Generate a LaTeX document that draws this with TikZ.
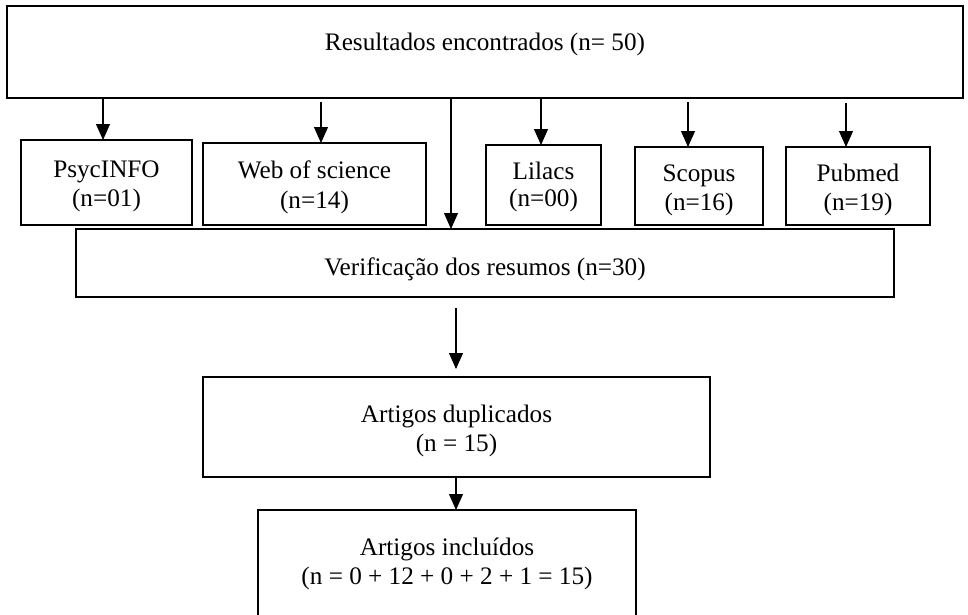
\documentclass[tikz,border=0pt]{standalone}
\usepackage{fontspec}
\setmainfont{Liberation Serif}
\usetikzlibrary{arrows.meta}
\begin{document}
\begin{tikzpicture}[x=1pt,y=-1pt,
  box/.style={draw, line width=1.3pt, inner sep=0pt, outer sep=0pt},
  txt/.style={anchor=base, inner sep=0pt, font=\fontsize{25.2}{30}\selectfont},
  arr/.style={line width=1.1pt, -{Triangle[width=14pt,length=16pt]}}]
\useasboundingbox (0,0) rectangle (968,614);
\clip (0,0) rectangle (968,614);
% boxes
\node[box, minimum width=956pt, minimum height=92pt] (top) at (485,52) {};
\node[box, minimum width=171pt, minimum height=85pt] (psy) at (106.5,182.5) {};
\node[box, minimum width=223pt, minimum height=82pt] (web) at (314.5,184) {};
\node[box, minimum width=115pt, minimum height=80pt] (lil) at (543.5,185) {};
\node[box, minimum width=128pt, minimum height=78pt] (sco) at (699,186) {};
\node[box, minimum width=144pt, minimum height=78pt] (pub) at (858,186) {};
\node[box, minimum width=818pt, minimum height=68pt] (ver) at (485,263) {};
\node[box, minimum width=507pt, minimum height=100pt] (dup) at (456.5,427) {};
\node[box, minimum width=378pt, minimum height=140pt] (inc) at (447,580) {};
% texts
\node[txt] (ttop) at (485,50) {Resultados encontrados (n= 50)};
\node[txt] (tpsy1) at (106.5,177) {PsycINFO};
\node[txt] (tpsy2) at (106.5,206) {(n=01)};
\node[txt] (tweb1) at (314.5,178) {Web of science};
\node[txt] (tweb2) at (314.5,208) {(n=14)};
\node[txt] (tlil1) at (543.5,179) {Lilacs};
\node[txt] (tlil2) at (543.5,206) {(n=00)};
\node[txt] (tsco1) at (699,181) {Scopus};
\node[txt] (tsco2) at (699,210) {(n=16)};
\node[txt] (tpub1) at (858,181) {Pubmed};
\node[txt] (tpub2) at (858,210) {(n=19)};
\node[txt] (tver) at (485,275) {Verificação dos resumos (n=30)};
\node[txt] (tdup1) at (456.5,422) {Artigos duplicados};
\node[txt] (tdup2) at (456.5,451) {(n = 15)};
\node[txt] (tinc1) at (447,555) {Artigos incluídos};
\node[txt] (tinc2) at (447,584) {(n = 0 + 12 + 0 + 2 + 1 = 15)};
% arrow x positions
\coordinate (x1) at (103,0);
\coordinate (x2) at (321,0);
\coordinate (x3) at (451,0);
\coordinate (x4) at (541,0);
\coordinate (x5) at (688,0);
\coordinate (x6) at (846,0);
\coordinate (x7) at (456,0);
% connectors
\draw[arr] (x1 |- top.south) -- (x1 |- psy.north);
\draw[arr, shorten <=4pt] (x2 |- top.south) -- (x2 |- web.north);
\draw[arr] (x3 |- top.south) -- (x3 |- ver.north);
\draw[arr] (x4 |- top.south) -- (x4 |- lil.north);
\draw[arr, shorten <=4pt] (x5 |- top.south) -- (x5 |- sco.north);
\draw[arr, shorten <=5pt] (x6 |- top.south) -- (x6 |- pub.north);
\draw[arr, shorten <=11pt, shorten >=8pt] (x7 |- ver.south) -- (x7 |- dup.north);
\draw[arr] (x7 |- dup.south) -- (x7 |- inc.north);
\end{tikzpicture}
\end{document}
